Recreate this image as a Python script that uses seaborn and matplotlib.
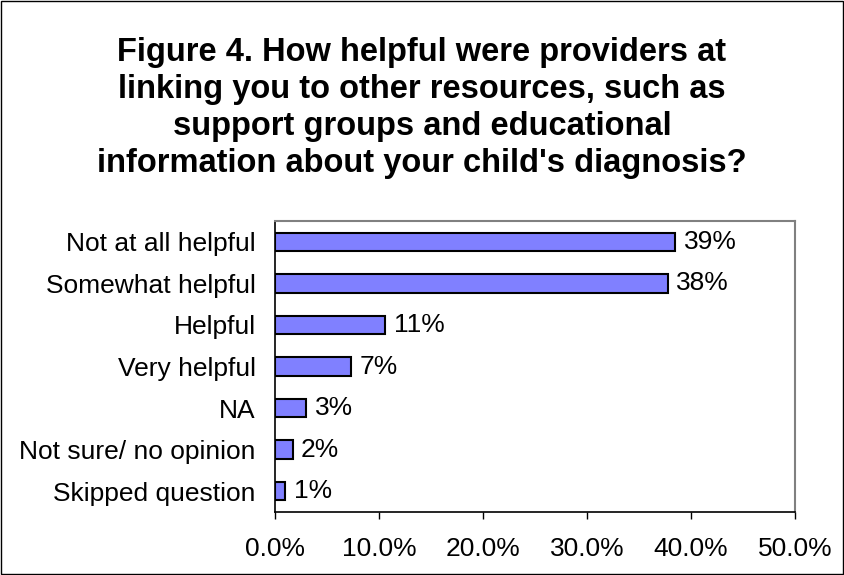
import matplotlib
matplotlib.use("Agg")
import matplotlib.pyplot as plt
import seaborn as sns
import pandas as pd
from matplotlib.patches import Rectangle

# data
categories = ['Not at all helpful', 'Somewhat helpful', 'Helpful', 'Very helpful',
              'NA', 'Not sure/ no opinion', 'Skipped question']
values = [38.5, 37.8, 10.6, 7.3, 3.0, 1.7, 1.0]
labels = ['39%', '38%', '11%', '7%', '3%', '2%', '1%']
xticks = [0, 10, 20, 30, 40, 50]
title = ("Figure 4. How helpful were providers at\n"
         "linking you to other resources, such as\n"
         "support groups and educational\n"
         "information about your child's diagnosis?")

df = pd.DataFrame({'Category': categories, 'Percent': values})

sns.set_style('white')
plt.rcParams['font.family'] = ['Liberation Sans', 'DejaVu Sans']
plt.rcParams['text.color'] = 'black'
plt.rcParams['xtick.color'] = 'black'
plt.rcParams['ytick.color'] = 'black'

fig = plt.figure(figsize=(8.44, 5.75), dpi=100)
ax = fig.add_axes([275 / 844, 1 - 512 / 575, 520 / 844, 291 / 575])

sns.barplot(data=df, x='Percent', y='Category', orient='h', color='#8080FF',
            saturation=1, width=0.44, edgecolor='black', linewidth=1.5, ax=ax)

for i, (v, lab) in enumerate(zip(values, labels)):
    ax.text(v + 0.8, i, lab, va='center', ha='left', fontsize=19)

ax.set_xlim(0, 50)
ax.set_ylim(len(categories) - 0.5, -0.5)
ax.set_xticks(xticks)
ax.set_xticklabels([f'{t:.1f}%' for t in xticks], fontsize=19)
ax.set_xlabel('')
ax.set_ylabel('')
ax.tick_params(axis='y', length=0, labelsize=19, pad=14)
ax.set_yticks([i + 0.5 for i in range(-1, len(categories))], minor=True)
ax.tick_params(axis='y', which='minor', length=5, width=1, direction='out', color='black')
ax.tick_params(axis='x', length=5, width=1, direction='out', color='black', pad=13, bottom=True)

for side in ['top', 'right']:
    ax.spines[side].set_color('#808080')
    ax.spines[side].set_linewidth(1.5)
for side in ['left', 'bottom']:
    ax.spines[side].set_color('black')
    ax.spines[side].set_linewidth(1.2)

fig.text(0.5, 1 - 108 / 575, title, ha='center', va='center', fontsize=23.5,
         fontweight='bold', linespacing=1.25)

fig.patches.append(Rectangle((0.001, 0.001), 0.998, 0.998, transform=fig.transFigure,
                             fill=False, edgecolor='black', linewidth=1))

fig.savefig('out.png', dpi=100)
